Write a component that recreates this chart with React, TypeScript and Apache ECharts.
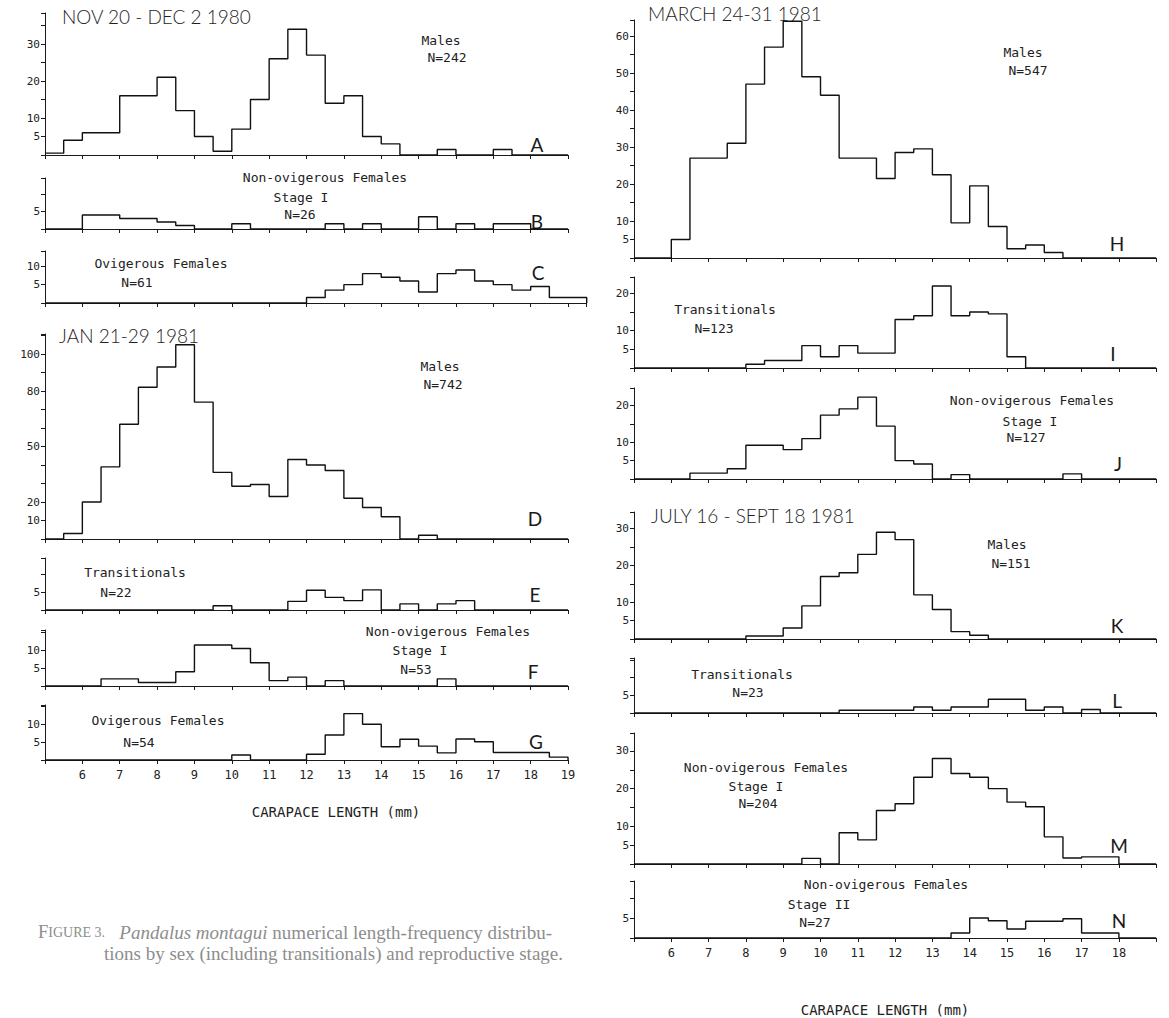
import React, { useEffect, useRef } from "react";
import * as echarts from "echarts";

// Histogram bins: 0.5 mm wide, first bin starts at 5.0 mm
const BIN_START = 5;
const BIN_WIDTH = 0.5;

// NOV 20 - DEC 2 1980
const countsA = [0.5, 4, 6, 6, 16, 16, 21, 12, 5, 1, 7, 15, 26, 34, 27, 14, 16, 5, 3, 0, 0, 1.5, 0, 0, 1.5, 0, 0, 0];
const countsB = [0, 0, 4, 4, 3, 3, 2, 1, 0, 0, 1.5, 0, 0, 0, 0, 1.5, 0, 1.5, 0, 0, 3.5, 0, 1.5, 0, 1.5, 1.5, 0, 0];
const countsC = [0, 0, 0, 0, 0, 0, 0, 0, 0, 0, 0, 0, 0, 0, 1.5, 3.5, 5, 8, 7, 6, 3, 8, 9, 6, 5, 3.5, 4.5, 1.5, 1.5];
// JAN 21-29 1981
const countsD = [0, 3, 20, 39, 62, 82, 93, 105, 74, 36, 28.5, 29.5, 23, 43, 40, 37, 22, 17, 12, 0, 2, 0, 0, 0, 0, 0, 0, 0];
const countsE = [0, 0, 0, 0, 0, 0, 0, 0, 0, 1.2, 0, 0, 0, 2.4, 5.5, 3.5, 2.6, 5.6, 0, 1.7, 0, 1.7, 2.6, 0, 0, 0, 0, 0];
const countsF = [0, 0, 0, 2, 2, 1, 1, 4, 11.5, 11.5, 10.5, 6.5, 1.5, 2.5, 0, 1.5, 0, 0, 0, 0, 0, 2, 0, 0, 0, 0, 0, 0];
const countsG = [0, 0, 0, 0, 0, 0, 0, 0, 0, 0, 1.4, 0, 0, 0, 1.6, 7, 13, 10, 3.7, 5.8, 3.9, 2, 5.9, 5.1, 2.1, 2.1, 2.1, 0.8];
// MARCH 24-31 1981
const countsH = [0, 0, 5, 27, 27, 31, 47, 57, 64, 49, 44, 27, 27, 21.5, 28.5, 29.5, 22.5, 9.5, 19.5, 8.5, 2.5, 3.5, 1.5, 0, 0, 0, 0, 0];
const countsI = [0, 0, 0, 0, 0, 0, 1, 2, 2, 6, 3, 6, 4, 4, 13, 14, 22, 14, 15, 14.5, 3, 0, 0, 0, 0, 0, 0, 0];
const countsJ = [0, 0, 0, 1.6, 1.6, 2.8, 9.2, 9.2, 8, 11, 17.4, 19.1, 22.3, 14.4, 5, 4.1, 0, 1.2, 0, 0, 0, 0, 0, 1.4, 0, 0, 0, 0];
// JULY 16 - SEPT 18 1981
const countsK = [0, 0, 0, 0, 0, 0, 0.8, 0.8, 3, 9, 17, 18, 23, 29, 27, 12, 8, 2, 1, 0, 0, 0, 0, 0, 0, 0, 0, 0];
const countsL = [0, 0, 0, 0, 0, 0, 0, 0, 0, 0, 0, 0.8, 0.8, 0.8, 0.8, 1.7, 0.8, 1.7, 1.7, 3.9, 3.9, 0.8, 1.7, 0, 1, 0, 0, 0];
const countsM = [0, 0, 0, 0, 0, 0, 0, 0, 0, 1.5, 0, 8.3, 6.4, 14.2, 16, 23, 28, 24, 23, 20, 16.4, 15.2, 7.2, 1.6, 1.9, 1.9, 0, 0];
const countsN = [0, 0, 0, 0, 0, 0, 0, 0, 0, 0, 0, 0, 0, 0, 0, 0, 0, 1.25, 5, 4.3, 2.25, 4.2, 4.2, 4.8, 1.25, 1.25, 0, 0];

// Tick labels
const yLabelsA = [5, 10, 20, 30];
const yLabelsB = [5];
const yLabelsC = [5, 10];
const yLabelsD = [10, 20, 50, 80, 100];
const yLabelsE = [5];
const yLabelsF = [5, 10];
const yLabelsG = [5, 10];
const yLabelsH = [5, 10, 20, 30, 40, 50, 60];
const yLabelsI = [5, 10, 20];
const yLabelsJ = [5, 10, 20];
const yLabelsK = [5, 10, 20, 30];
const yLabelsL = [5];
const yLabelsM = [5, 10, 20, 30];
const yLabelsN = [5];
const xLabelsLeft = [6, 7, 8, 9, 10, 11, 12, 13, 14, 15, 16, 17, 18, 19];
const xLabelsRight = [6, 7, 8, 9, 10, 11, 12, 13, 14, 15, 16, 17, 18];

const titles = ["NOV 20 - DEC 2 1980", "JAN 21-29 1981", "MARCH 24-31 1981", "JULY 16 - SEPT 18 1981"];
const panelLetters = ["A", "B", "C", "D", "E", "F", "G", "H", "I", "J", "K", "L", "M", "N"];
const xAxisName = "CARAPACE LENGTH (mm)";

// Layout (pixels)
const COL_L = { x0: 45, px: 37.36 };
const COL_R = { x0: 634, px: 37.3 };
const MONO = '"DejaVu Sans Mono", monospace';
const THIN = 'Lato, "Liberation Sans", sans-serif';

type Panel = {
  counts: number[]; col: { x0: number; px: number }; xMax: number;
  top: number; base: number; scale: number; interval: number;
  yLabels: number[]; xLabels: number[] | null;
  letter: [number, number];
};

const panels: Panel[] = [
  { counts: countsA, col: COL_L, xMax: 19, top: 13, base: 155, scale: 3.7, interval: 5, yLabels: yLabelsA, xLabels: null, letter: [537, 144] },
  { counts: countsB, col: COL_L, xMax: 19, top: 178, base: 229, scale: 3.5, interval: 5, yLabels: yLabelsB, xLabels: null, letter: [537, 221] },
  { counts: countsC, col: COL_L, xMax: 19.5, top: 251, base: 303, scale: 3.67, interval: 5, yLabels: yLabelsC, xLabels: null, letter: [538, 272] },
  { counts: countsD, col: COL_L, xMax: 19, top: 334, base: 539, scale: 1.85, interval: 10, yLabels: yLabelsD, xLabels: null, letter: [535, 518] },
  { counts: countsE, col: COL_L, xMax: 19, top: 558, base: 610, scale: 3.6, interval: 5, yLabels: yLabelsE, xLabels: null, letter: [535, 594] },
  { counts: countsF, col: COL_L, xMax: 19, top: 630, base: 686, scale: 3.57, interval: 5, yLabels: yLabelsF, xLabels: null, letter: [533, 671] },
  { counts: countsG, col: COL_L, xMax: 19, top: 705, base: 760, scale: 3.57, interval: 5, yLabels: yLabelsG, xLabels: xLabelsLeft, letter: [536, 741] },
  { counts: countsH, col: COL_R, xMax: 19, top: 20, base: 258, scale: 3.7, interval: 5, yLabels: yLabelsH, xLabels: null, letter: [1117, 243] },
  { counts: countsI, col: COL_R, xMax: 19, top: 277, base: 368, scale: 3.73, interval: 5, yLabels: yLabelsI, xLabels: null, letter: [1113, 353] },
  { counts: countsJ, col: COL_R, xMax: 19, top: 388, base: 479, scale: 3.67, interval: 5, yLabels: yLabelsJ, xLabels: null, letter: [1118, 463] },
  { counts: countsK, col: COL_R, xMax: 19, top: 512, base: 639, scale: 3.68, interval: 5, yLabels: yLabelsK, xLabels: null, letter: [1117, 625] },
  { counts: countsL, col: COL_R, xMax: 19, top: 658, base: 713, scale: 3.53, interval: 5, yLabels: yLabelsL, xLabels: null, letter: [1117, 700] },
  { counts: countsM, col: COL_R, xMax: 19, top: 733, base: 864, scale: 3.77, interval: 5, yLabels: yLabelsM, xLabels: null, letter: [1119, 845] },
  { counts: countsN, col: COL_R, xMax: 19, top: 881, base: 938, scale: 4.0, interval: 5, yLabels: yLabelsN, xLabels: xLabelsRight, letter: [1119, 920] },
];

// annotation texts: [text, centerX, centerY]
const annotations: [string, number, number][] = [
  ["Males", 441, 40], ["N=242", 447, 57],
  ["Non-ovigerous Females", 325, 177], ["Stage I", 301, 197], ["N=26", 300, 214],
  ["Ovigerous Females", 161, 263], ["N=61", 137, 282],
  ["Males", 440, 366], ["N=742", 443, 384],
  ["Transitionals", 135, 572], ["N=22", 116, 592],
  ["Non-ovigerous Females", 448, 631], ["Stage I", 420, 650], ["N=53", 416, 669],
  ["Ovigerous Females", 158, 720], ["N=54", 139, 742],
  ["Males", 1023, 52], ["N=547", 1028, 70],
  ["Transitionals", 725, 309], ["N=123", 714, 328],
  ["Non-ovigerous Females", 1032, 400], ["Stage I", 1030, 421], ["N=127", 1026, 437],
  ["Males", 1007, 544], ["N=151", 1011, 563],
  ["Transitionals", 742, 674], ["N=23", 748, 692],
  ["Non-ovigerous Females", 766, 767], ["Stage I", 756, 786], ["N=204", 758, 803],
  ["Non-ovigerous Females", 886, 884], ["Stage II", 819, 904], ["N=27", 815, 922],
];
const titlePos: [number, number][] = [[62, 16], [59, 335], [648, 13], [651, 515]];

function stepPoints(counts: number[]) {
  const pts: number[][] = counts.map((c, i) => [BIN_START + i * BIN_WIDTH, c]);
  pts.push([BIN_START + counts.length * BIN_WIDTH, 0]);
  return pts;
}

function txt(text: string, x: number, y: number, font: string, align = "center", fill = "#222") {
  return {
    type: "text", x, y, silent: true,
    style: { text, fill, font, textAlign: align, align, textVerticalAlign: "middle", verticalAlign: "middle" },
  };
}

export default function App() {
  const ref = useRef<HTMLDivElement>(null);
  useEffect(() => {
    if (!ref.current) return;
    const chart = echarts.init(ref.current, undefined, { renderer: "svg" });
    const axisColor = "#1a1a1a";
    const capColor = "#8d8d8d";
    const graphic: any[] = [];
    titles.forEach((t, i) => graphic.push(txt(t, titlePos[i][0], titlePos[i][1], `300 19px ${THIN}`, "left", "#1e1e1e")));
    annotations.forEach(([t, x, y]) => graphic.push(txt(t, x, y, `13px ${MONO}`)));
    panels.forEach((p, i) => graphic.push(txt(panelLetters[i], p.letter[0], p.letter[1], `400 19px ${THIN}`, "center", "#1a1a1a")));
    graphic.push(txt(xAxisName, 336, 812, `14px ${MONO}`));
    graphic.push(txt(xAxisName, 885, 1010, `14px ${MONO}`));
    graphic.push({
      type: "text", x: 38, y: 932, silent: true,
      style: {
        text: "{a|F}{b|IGURE 3.}   {i|Pandalus montagui} numerical length-frequency distribu-",
        fill: capColor, font: '19px "Liberation Serif", serif',
        textVerticalAlign: "middle", verticalAlign: "middle",
        rich: {
          a: { fontSize: 18.5, fontFamily: "Liberation Serif", fill: capColor, color: capColor },
          b: { fontSize: 14, fontFamily: "Liberation Serif", fill: capColor, color: capColor },
          i: { fontSize: 19, fontFamily: "Liberation Serif", fontStyle: "italic", fill: capColor, color: capColor },
        },
      },
    });
    graphic.push(txt("tions by sex (including transitionals) and reproductive stage.", 563, 953, '19px "Liberation Serif", serif', "right", capColor));

    const option: any = {
      animation: false,
      backgroundColor: "#ffffff",
      grid: panels.map((p) => ({
        left: p.col.x0, top: p.top, width: (p.xMax - BIN_START) * p.col.px, height: p.base - p.top,
        containLabel: false, outerBoundsMode: "none",
      })),
      xAxis: panels.map((p, i) => ({
        type: "value", gridIndex: i, min: BIN_START, max: p.xMax, interval: 1,
        axisLine: { show: true, lineStyle: { color: axisColor, width: 1 } },
        axisTick: { show: true, length: 4, lineStyle: { color: axisColor, width: 1 } },
        axisLabel: {
          show: !!p.xLabels, margin: 9, fontSize: 12, fontFamily: MONO, color: "#222",
          formatter: (v: number) => (p.xLabels && p.xLabels.includes(v) ? String(v) : ""),
        },
        splitLine: { show: false },
      })),
      yAxis: panels.map((p, i) => ({
        type: "value", gridIndex: i, min: 0, max: (p.base - p.top) / p.scale, interval: p.interval,
        axisLine: { show: true, lineStyle: { color: axisColor, width: 1 } },
        axisTick: { show: true, length: 4, lineStyle: { color: axisColor, width: 1 } },
        axisLabel: {
          margin: 5, fontSize: 11, fontFamily: MONO, color: "#222",
          formatter: (v: number) => (p.yLabels.includes(v) ? String(v) : ""),
        },
        splitLine: { show: false },
      })),
      series: panels.map((p, i) => ({
        type: "line", xAxisIndex: i, yAxisIndex: i, step: "end",
        data: stepPoints(p.counts), symbol: "none", silent: true, clip: false,
        lineStyle: { color: "#111", width: 1.4 },
      })),
      graphic,
    };
    chart.setOption(option);
    return () => chart.dispose();
  }, []);
  return (
    <div
      ref={ref}
      style={{ position: "absolute", left: 0, top: 0, width: 1169, height: 1018, background: "#fff" }}
    />
  );
}
